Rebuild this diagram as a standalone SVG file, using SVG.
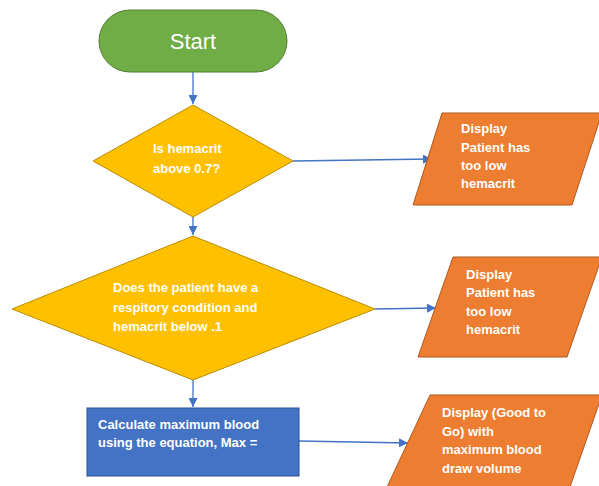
<svg xmlns="http://www.w3.org/2000/svg" width="599" height="486" viewBox="0 0 599 486">
<style>
.t{font-family:"Liberation Sans",Arial,sans-serif;font-weight:bold;font-size:13px;fill:#ffffff}
.c{stroke:#4472C4;stroke-width:1.3;fill:none;marker-end:url(#ah)}
.dec{fill:#FFC000;stroke:#BC8C00;stroke-width:1}
.io{fill:#ED7D31;stroke:#AE5A21;stroke-width:1}
</style>
<defs>
<marker id="ah" viewBox="0 0 10 10" refX="10" refY="5" markerWidth="9" markerHeight="9" markerUnits="userSpaceOnUse" orient="auto">
<path d="M0,0 L10,5 L0,10 z" fill="#4472C4"/>
</marker>
</defs>
<rect width="599" height="486" fill="#ffffff"/>
<g id="connectors">
<line class="c" x1="193" y1="72" x2="193" y2="104"/>
<line class="c" x1="293" y1="161" x2="432" y2="159"/>
<line class="c" x1="193" y1="217" x2="193" y2="235"/>
<line class="c" x1="375" y1="309" x2="436" y2="308"/>
<line class="c" x1="193" y1="380" x2="193" y2="407"/>
<line class="c" x1="299" y1="441" x2="408" y2="443"/>
</g>
<g id="start">
<rect x="99" y="10" width="188" height="62" rx="31" fill="#70AD47" stroke="#507E32" stroke-width="1"/>
<text x="193" y="49" text-anchor="middle" style="font-family:'Liberation Sans',Arial,sans-serif;font-size:22px;fill:#ffffff">Start</text>
</g>
<g id="decision1">
<polygon class="dec" points="193,105 293,161 193,217 93,161"/>
<text class="t" x="153" y="153">Is hemacrit</text>
<text class="t" x="153" y="173">above 0.7?</text>
</g>
<g id="display1">
<polygon class="io" points="442,113 602,113 572,205 413,205"/>
<text class="t" x="461" y="133">Display</text>
<text class="t" x="461" y="152">Patient has</text>
<text class="t" x="461" y="170">too low</text>
<text class="t" x="461" y="188">hemacrit</text>
</g>
<g id="decision2">
<polygon class="dec" points="193,236 375,309 193,380 12,309"/>
<text class="t" x="113" y="292">Does the patient have a</text>
<text class="t" x="113" y="312">respitory condition and</text>
<text class="t" x="113" y="331">hemacrit below .1</text>
</g>
<g id="display2">
<polygon class="io" points="453,257 602,257 567,357 418,357"/>
<text class="t" x="466" y="279">Display</text>
<text class="t" x="466" y="297">Patient has</text>
<text class="t" x="466" y="316">too low</text>
<text class="t" x="466" y="334">hemacrit</text>
</g>
<g id="calculate">
<rect x="87" y="408" width="212" height="68" fill="#4472C4" stroke="#2F528F" stroke-width="1"/>
<text class="t" x="98" y="429">Calculate maximum blood</text>
<text class="t" x="98" y="447">using the equation, Max =</text>
</g>
<g id="display3">
<polygon class="io" points="430,395 602,395 570,487 387,487"/>
<text class="t" x="442" y="417">Display (Good to</text>
<text class="t" x="442" y="436">Go) with</text>
<text class="t" x="442" y="454">maximum blood</text>
<text class="t" x="442" y="473">draw volume</text>
</g>
</svg>
